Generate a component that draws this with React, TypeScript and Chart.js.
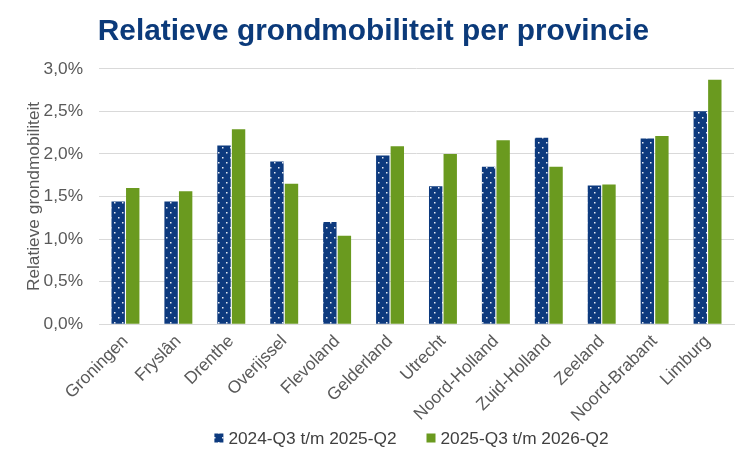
import React, { useEffect, useRef } from "react";
import { Chart, registerables } from "chart.js";

Chart.register(...registerables);

const provinces = [
  "Groningen",
  "Fryslân",
  "Drenthe",
  "Overijssel",
  "Flevoland",
  "Gelderland",
  "Utrecht",
  "Noord-Holland",
  "Zuid-Holland",
  "Zeeland",
  "Noord-Brabant",
  "Limburg",
];

const period1Label = "2024-Q3 t/m 2025-Q2";
const period2Label = "2025-Q3 t/m 2026-Q2";

// Relatieve grondmobiliteit in procenten
const period1 = [1.44, 1.44, 2.1, 1.91, 1.2, 1.98, 1.62, 1.85, 2.19, 1.63, 2.18, 2.5];
const period2 = [1.6, 1.56, 2.29, 1.65, 1.04, 2.09, 2.0, 2.16, 1.85, 1.64, 2.21, 2.87];

const titleText = "Relatieve grondmobiliteit per provincie";
const yAxisTitle = "Relatieve grondmobiliteit";

const BLUE = "#0d3a7e";
const GREEN = "#6a9a1f";
const FONT = "'Liberation Sans', Arial, sans-serif";
const TEXT_SIZE = 17.3;

function makeDotPattern(): CanvasPattern | string {
  const tile = document.createElement("canvas");
  tile.width = 8;
  tile.height = 10;
  const ctx = tile.getContext("2d");
  if (!ctx) return BLUE;
  ctx.fillStyle = BLUE;
  ctx.fillRect(0, 0, 8, 10);
  ctx.fillStyle = "rgba(255,255,255,0.9)";
  ctx.fillRect(2, 2, 1.5, 1.5);
  ctx.fillRect(6, 7, 1.5, 1.5);
  const p = ctx.createPattern(tile, "repeat");
  return p || BLUE;
}

// Bottom legend: small square swatch, short gap, label; items spaced widely.
const bottomLegend = {
  id: "bottomLegend",
  afterDraw(chart: any) {
    const { ctx, chartArea } = chart;
    const items = chart.data.datasets.map((ds: any) => ({
      text: ds.label as string,
      fill: ds.backgroundColor,
    }));
    const box = 9;
    const boxGap = 5;
    const itemGap = 30;
    ctx.save();
    ctx.font = `${TEXT_SIZE}px ${FONT}`;
    const widths = items.map((it: any) => box + boxGap + ctx.measureText(it.text).width);
    const total = widths.reduce((a: number, b: number) => a + b, 0) + itemGap * (items.length - 1);
    let x = (chartArea.left + chartArea.right) / 2 - 5 - total / 2;
    const cy = chart.height - 32;
    ctx.textBaseline = "middle";
    ctx.textAlign = "left";
    items.forEach((it: any, i: number) => {
      ctx.fillStyle = it.fill;
      ctx.fillRect(x, cy - box / 2, box, box);
      ctx.fillStyle = "#404040";
      ctx.fillText(it.text, x + box + boxGap, cy + 1);
      x += widths[i] + itemGap;
    });
    ctx.restore();
  },
};

export default function App() {
  const canvasRef = useRef<HTMLCanvasElement | null>(null);

  useEffect(() => {
    if (!canvasRef.current) return;
    const dots = makeDotPattern();
    const chart = new Chart(canvasRef.current, {
      type: "bar",
      data: {
        labels: provinces,
        datasets: [
          {
            label: period1Label,
            data: period1,
            backgroundColor: dots as any,
            borderWidth: 0,
            barPercentage: 0.92,
            categoryPercentage: 0.55,
          },
          {
            label: period2Label,
            data: period2,
            backgroundColor: GREEN,
            borderWidth: 0,
            barPercentage: 0.92,
            categoryPercentage: 0.55,
          },
        ],
      },
      options: {
        animation: false,
        responsive: false,
        maintainAspectRatio: false,
        layout: { padding: { top: 14, right: 16, bottom: 37, left: 13 } },
        plugins: {
          title: {
            display: true,
            text: titleText,
            color: "#0b3a7a",
            font: { family: FONT, size: 29.8, weight: "bold" },
            padding: { top: 0, bottom: 19 },
          },
          legend: { display: false },
          tooltip: { enabled: false },
        },
        scales: {
          x: {
            grid: { display: false, drawTicks: false },
            border: { display: true, color: "#d9d9d9" },
            ticks: {
              color: "#595959",
              font: { family: FONT, size: TEXT_SIZE },
              minRotation: 45,
              maxRotation: 45,
              padding: 7,
            },
          },
          y: {
            min: 0,
            max: 3,
            border: { display: false },
            grid: { color: "#d9d9d9", drawTicks: false },
            ticks: {
              stepSize: 0.5,
              padding: 16,
              color: "#595959",
              font: { family: FONT, size: TEXT_SIZE },
              callback: (v: any) => Number(v).toFixed(1).replace(".", ",") + "%",
            },
            title: {
              display: true,
              text: yAxisTitle,
              color: "#595959",
              font: { family: FONT, size: TEXT_SIZE },
              padding: { top: 11, bottom: 0 },
            },
            afterFit: (scale: any) => {
              scale.width = 86;
            },
          },
        },
      },
      plugins: [bottomLegend],
    });
    return () => chart.destroy();
  }, []);

  return (
    <div style={{ position: "absolute", left: 0, top: 0, width: 750, height: 470, background: "#fff" }}>
      <canvas ref={canvasRef} width={750} height={470} />
    </div>
  );
}
